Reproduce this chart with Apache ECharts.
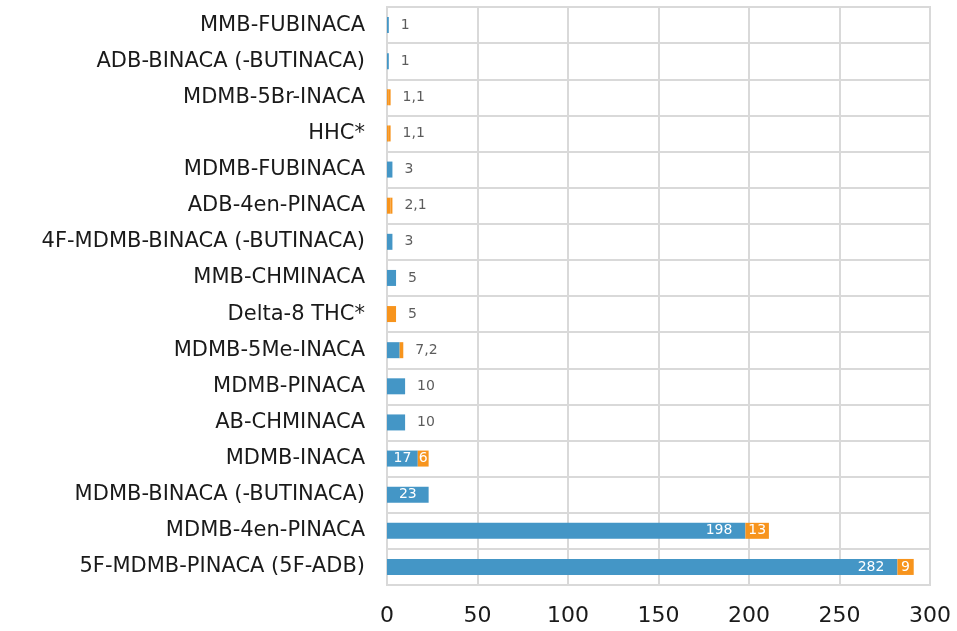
<!DOCTYPE html>
<html><head><meta charset="utf-8">
<script src="https://cdn.jsdelivr.net/npm/echarts@6/dist/echarts.min.js"></script>
<style>html,body{margin:0;padding:0;background:#fff}#c{width:957px;height:631px}</style>
</head><body><div id="c"></div>
<script>
// categories bottom -> top (ECharts category axis starts at bottom)
var categories = ["5F-MDMB-PINACA (5F-ADB)","MDMB-4en-PINACA","MDMB-BINACA (-BUTINACA)","MDMB-INACA","AB-CHMINACA","MDMB-PINACA","MDMB-5Me-INACA","Delta-8 THC*","MMB-CHMINACA","4F-MDMB-BINACA (-BUTINACA)","ADB-4en-PINACA","MDMB-FUBINACA","HHC*","MDMB-5Br-INACA","ADB-BINACA (-BUTINACA)","MMB-FUBINACA"];
var blueValues    = [282,198,23,17,10,10,7,0,5,3,0,3,0,0,1,1];
var orangeValues  = [9,13,0,6,0,0,2,5,0,0,2,0,1,1,0,0];
var orange2Values = [0,0,0,0,0,0,0,0,0,0,1,0,1,1,0,0];
var xTicks = [0,50,100,150,200,250,300];

var BLUE = "#4496c6", ORANGE = "#f7941d";
var FONT = "DejaVu Sans";
var insideThreshold = 15;

function totals(i){ return blueValues[i]+orangeValues[i]+orange2Values[i]; }
function insideLabel(arr){
  return {show:true, position:"inside", color:"#fff", fontFamily:FONT, fontSize:14,
    formatter:function(p){ var t=totals(p.dataIndex); return (t>=insideThreshold && arr[p.dataIndex]>0)? String(arr[p.dataIndex]) : ""; }};
}
var blueData = blueValues.map(function(v){
  return v > 50 ? {value:v, label:{position:"insideRight", distance:13}} : v;
});
var outsideData = categories.map(function(c,i){ return [totals(i), i]; });

var chart = echarts.init(document.getElementById("c"));
chart.setOption({
  animation:false,
  grid:{left:387, right:27, top:7, bottom:46, containLabel:false, show:true, borderColor:"#d9d9d9", borderWidth:2},
  xAxis:{type:"value", min:0, max:300, interval:50,
    axisLine:{show:false}, axisTick:{show:false},
    splitLine:{show:true, lineStyle:{color:"#d9d9d9", width:2}},
    axisLabel:{color:"#1a1a1a", fontFamily:FONT, fontSize:22, margin:20,
      formatter:function(v){ return xTicks.indexOf(v)>=0 ? String(v) : ""; }}},
  yAxis:{type:"category", data:categories,
    axisLine:{show:true, lineStyle:{color:"#d9d9d9", width:2}}, axisTick:{show:false},
    splitLine:{show:true, lineStyle:{color:"#d9d9d9", width:2}},
    axisLabel:{color:"#1a1a1a", fontFamily:FONT, fontSize:21, margin:22}},
  series:[
    {type:"bar", stack:"s", data:blueData, barWidth:16, itemStyle:{color:BLUE}, label:insideLabel(blueValues)},
    {type:"bar", stack:"s", data:orangeValues, barWidth:16, itemStyle:{color:ORANGE}, label:insideLabel(orangeValues)},
    {type:"bar", stack:"s", data:orange2Values, barWidth:16, itemStyle:{color:ORANGE}, label:{show:false}},
    {type:"scatter", data:outsideData, symbolSize:0, silent:true,
      label:{show:true, position:"right", distance:12, color:"#333", fontFamily:FONT, fontSize:14,
        formatter:function(p){ var i=p.dataIndex; if(totals(i)>=insideThreshold) return "";
          var parts=[blueValues[i],orangeValues[i],orange2Values[i]].filter(function(v){return v>0;});
          return parts.join(","); }}}
  ]
});
</script></body></html>
